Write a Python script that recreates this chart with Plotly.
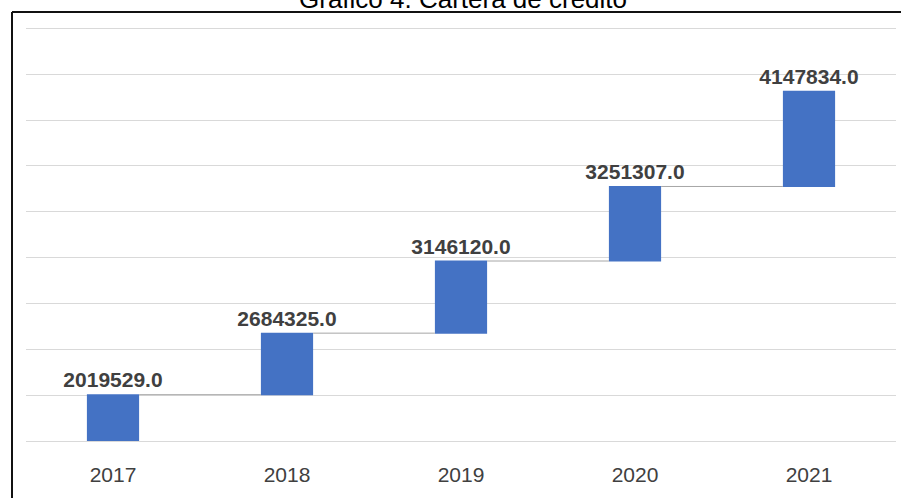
import plotly.graph_objects as go

# Cartera de crédito por año (incrementos del gráfico de cascada)
years = ["2017", "2018", "2019", "2020", "2021"]
values = [2019529.0, 2684325.0, 3146120.0, 3251307.0, 4147834.0]
labels = [f"{v:.1f}" for v in values]
title_text = "Gráfico 4. Cartera de crédito"

W, H = 901, 498
ML, MR, MT, MB = 26, 5, 26, 57
pw, ph = W - ML - MR, H - MT - MB

fig = go.Figure(go.Waterfall(
    x=years,
    y=values,
    measure=["relative"] * len(values),
    text=labels,
    textposition="outside",
    constraintext="none",
    textfont=dict(family="Liberation Sans", size=21, color="#404040", weight="bold"),
    increasing=dict(marker=dict(color="#4472C4")),
    connector=dict(line=dict(color="#a6a6a6", width=1), mode="between"),
    width=0.3,
    cliponaxis=False,
    hoverinfo="x+y",
))

# frame lines (left and top) drawn in paper coordinates
fx = (12 - ML) / pw
fy = (H - MB - 12) / ph
fig.add_shape(type="line", xref="paper", yref="paper", x0=fx, x1=fx, y0=-1, y1=fy,
              line=dict(color="#111111", width=2))
fig.add_shape(type="line", xref="paper", yref="paper", x0=fx, x1=(W - ML) / pw, y0=fy, y1=fy,
              line=dict(color="#111111", width=2))

fig.add_annotation(text=title_text, xref="paper", yref="paper",
                   x=(463 - ML) / pw, y=(H - MB - 16) / ph, xanchor="center", yanchor="bottom",
                   showarrow=False, font=dict(family="Liberation Sans", size=26, color="#000000"))

fig.update_layout(
    width=W, height=H,
    margin=dict(l=ML, r=MR, t=MT, b=MB),
    paper_bgcolor="white", plot_bgcolor="white",
    showlegend=False,
    xaxis=dict(showgrid=False, showline=False, zeroline=False, ticks="",
               tickfont=dict(family="Liberation Sans", size=21, color="#404040"),
               ticklabelstandoff=19),
    yaxis=dict(range=[0, 18.1e6], tick0=0, dtick=2e6, showticklabels=False, showgrid=True,
               gridcolor="#d9d9d9", gridwidth=1, zeroline=True, zerolinecolor="#d9d9d9",
               zerolinewidth=1, showline=False),
)

fig.write_html("out.html")
